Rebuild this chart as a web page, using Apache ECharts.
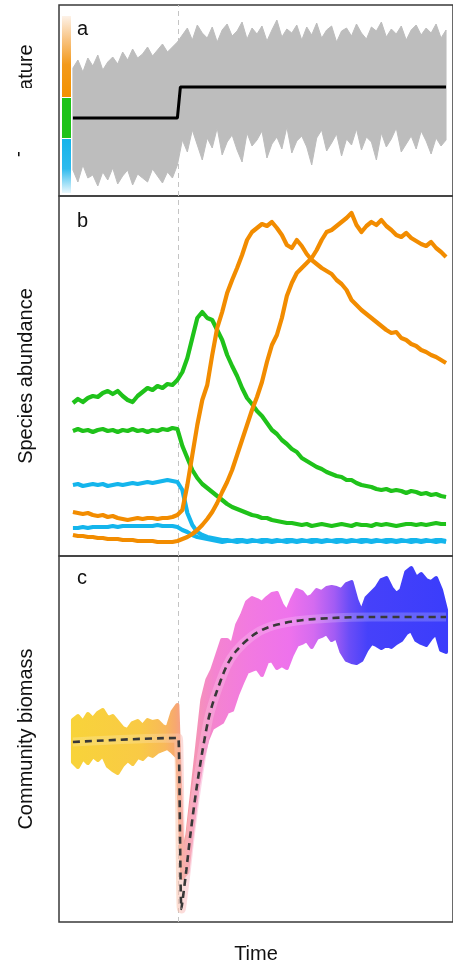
<!DOCTYPE html>
<html>
<head>
<meta charset="utf-8">
<title>Community response</title>
<script src="https://cdn.jsdelivr.net/npm/echarts/dist/echarts.min.js"></script>
<style>
  html, body { margin: 0; padding: 0; background: #fff; }
  #main { width: 453px; height: 965px; }
</style>
</head>
<body>
<div id="main"></div>
<script>
// 时间轴 (三个面板共用)
var time = [0,5,10,15,20,25,30,35,40,45,50,55,60,65,70,75,80,85,90,95,100,105,
  110,115,120,125,130,135,140,145,150,155,160,165,170,175,180,185,190,195,200,205,
  210,215,220,225,230,235,240,245,250,255,260,265,270,275,280,285,290,295,300,305,
  310,315,320,325,330,335,340,345,350,355,360,365,370,375];
var shiftTime = 106;   // 温度突变时刻

// a: 温度 (灰色波动范围 + 均值)
var tempUpper = [12.8,13.6,12.4,13.8,13.0,14.1,12.6,13.4,13.9,13.2,14.4,13.6,14.7,13.8,14.2,14.9,14.0,14.6,15.2,14.4,14.9,15.4,
  16.1,16.8,15.6,17.1,16.3,15.8,16.9,15.4,16.6,17.2,16.0,16.5,17.4,15.7,16.8,16.2,17.0,15.5,16.6,17.6,15.9,16.7,16.3,17.1,15.6,16.9,16.1,17.3,15.8,16.6,17.0,15.4,16.5,16.8,16.0,17.2,16.3,15.7,16.9,16.5,17.4,15.9,16.7,16.2,17.0,15.6,16.6,17.1,16.1,16.8,16.3,17.2,15.8,16.6];
var tempLower = [2.6,1.4,3.1,1.8,2.1,1.0,2.4,1.6,2.8,1.2,2.0,2.6,1.1,2.2,1.8,1.4,2.7,2.0,1.3,2.4,1.8,3.1,
  5.6,4.4,6.6,5.1,3.6,5.8,4.8,6.8,4.1,5.4,6.1,4.6,3.4,6.3,5.0,5.6,6.5,3.8,5.2,5.9,4.7,6.9,4.3,5.5,6.0,4.9,3.1,5.8,6.6,4.5,5.3,6.2,4.0,5.7,5.1,6.7,4.6,5.9,5.4,3.6,6.3,4.9,5.7,6.8,4.4,5.2,6.0,4.7,6.5,5.5,4.2,5.8,5.0,5.6];
var meanTime = [0,105,108,375];
var meanTemp = [7.8,7.8,10.9,10.9];

// b: 物种丰度
var greenA = [15.3,15.7,15.4,15.8,16.0,15.9,16.3,16.5,16.2,16.5,16.0,15.6,15.4,16.0,16.4,16.8,16.6,17.0,16.8,17.2,17.1,17.6,
  18.4,19.8,21.8,23.8,24.4,23.8,23.6,22.6,21.6,20.1,19.0,18.0,16.8,15.8,15.2,14.5,14.0,13.3,12.6,12.2,11.6,11.2,10.7,10.4,9.8,9.5,9.2,8.9,8.7,8.4,8.2,8.0,7.9,7.6,7.6,7.3,7.1,7.0,6.9,6.7,6.6,6.7,6.5,6.6,6.5,6.3,6.5,6.4,6.2,6.3,6.1,6.2,6.0,5.9];
var greenB = [12.5,12.7,12.5,12.6,12.4,12.6,12.7,12.5,12.6,12.4,12.6,12.5,12.7,12.5,12.6,12.4,12.6,12.5,12.7,12.6,12.8,12.7,
  11.0,9.8,8.6,7.8,7.2,6.8,6.4,6.0,5.6,5.2,4.9,4.7,4.5,4.3,4.1,4.0,3.8,3.8,3.6,3.5,3.4,3.3,3.3,3.2,
  3.1,3.2,3.0,3.1,3.2,3.1,3.0,3.1,3.2,3.1,3.0,3.2,3.1,3.1,3.0,3.2,3.1,3.2,3.1,3.0,3.1,3.2,3.2,3.1,3.2,3.1,3.2,3.3,3.2,3.2];
var blueA = [7.1,7.2,7.0,7.1,7.2,7.1,7.2,7.0,7.1,7.2,7.1,7.2,7.3,7.2,7.3,7.4,7.3,7.4,7.5,7.6,7.5,7.4,
  6.6,4.3,3.1,2.4,2.1,1.9,1.8,1.7,1.6,
  1.6,1.5,1.6,1.6,1.5,1.6,1.5,1.6,1.6,1.5,1.6,1.5,1.6,1.6,1.5,1.6,1.5,1.6,1.6,1.5,
  1.6,1.5,1.6,1.6,1.5,1.6,1.5,1.6,1.6,1.5,1.6,1.5,1.6,1.6,1.5,1.6,1.5,1.6,1.6,1.5,1.6,1.5,1.6,1.6,1.5];
var blueB = [2.8,2.8,2.9,2.8,2.9,2.9,2.9,2.9,3.0,2.9,3.0,3.0,3.0,3.0,3.0,3.0,3.0,3.1,3.0,3.0,3.0,2.9,
  2.6,2.4,2.1,1.9,1.8,1.7,1.6,
  1.5,1.4,1.5,1.5,1.4,1.5,1.4,1.5,1.5,1.4,1.5,1.4,1.5,1.5,1.4,1.5,1.4,1.5,1.5,1.4,1.5,1.4,1.5,1.5,
  1.4,1.5,1.4,1.5,1.5,1.4,1.5,1.4,1.5,1.5,1.4,1.5,1.4,1.5,1.5,1.4,1.5,1.4,1.5,1.5,1.4,1.5,1.4];
var orangeA = [4.4,4.3,4.2,4.3,4.1,4.0,4.1,3.9,4.0,3.8,3.7,3.6,3.7,3.8,3.7,3.8,3.8,3.7,3.8,3.8,3.9,4.1,
  4.6,7.1,10.1,13.1,15.6,17.1,20.1,22.8,24.4,26.3,27.6,28.8,30.1,31.6,32.4,32.8,33.2,33.0,33.4,32.8,32.1,31.1,30.8,31.6,31.0,30.2,29.6,29.2,28.8,28.5,28.2,27.6,27.2,26.6,25.6,25.1,24.6,24.2,23.8,23.4,23.0,22.6,22.3,22.4,21.8,21.6,21.2,21.0,20.6,20.4,20.1,19.9,19.6,19.3];
var orangeB = [2.1,2.0,2.0,1.9,1.9,1.8,1.8,1.7,1.7,1.7,1.6,1.6,1.6,1.5,1.5,1.5,1.5,1.4,1.4,1.4,1.4,1.5,
  1.7,1.9,2.2,2.6,3.1,3.7,4.4,5.3,6.4,7.4,8.6,10.1,11.6,13.1,14.6,15.9,17.4,19.4,21.1,22.1,23.8,26.0,27.3,28.3,28.8,29.3,29.8,30.6,31.6,
  32.4,32.6,33.0,33.4,33.8,34.3,33.1,32.4,33.0,33.4,33.1,33.6,33.0,32.6,32.1,31.9,32.3,31.8,31.5,31.2,31.0,31.4,30.8,30.4,29.9];

// c: 群落生物量 (波动范围 + 拟合曲线)
var biomassHigh = [20.2,20.6,20.0,20.8,20.3,20.9,21.2,20.4,20.6,20.0,19.4,19.2,19.9,20.1,19.6,20.2,20.0,20.1,19.6,19.4,21.0,21.7,
  6.7,8.7,13.2,17.7,22.2,24.2,25.2,26.7,28.2,28.2,27.7,29.7,30.7,32.0,32.4,32.2,31.9,32.4,32.8,32.9,31.7,31.0,32.2,33.2,33.0,32.4,32.6,33.2,33.0,33.4,
  33.5,33.4,33.2,33.8,34.0,32.2,31.0,32.4,32.9,33.4,34.2,34.4,33.4,32.8,33.2,35.0,35.4,34.4,34.8,34.2,34.0,34.4,33.2,31.2];
var biomassLow = [16.0,15.5,16.4,15.9,16.6,16.2,16.7,15.6,15.2,14.9,15.7,16.2,15.8,16.5,16.3,16.8,16.6,17.0,17.2,17.4,17.0,16.5,
  4.4,5.0,9.2,13.2,16.2,18.2,19.4,19.7,20.0,21.0,21.2,22.7,23.9,25.0,25.2,25.4,24.7,26.0,26.2,25.4,25.7,25.4,26.7,27.7,27.9,28.2,27.5,28.4,28.6,28.9,
  28.2,28.5,27.0,26.2,26.0,25.9,26.2,27.2,27.9,27.7,27.4,27.7,27.5,27.9,28.2,28.9,29.2,28.2,27.9,27.7,28.4,28.9,27.2,27.0];
var fitTime = [0,105,106,109,110,114,118,124,130,136,140,144,154,164,180,197,224,260,300,375];
var fitBiomass = [18.0,18.4,18.4,1.3,2.0,5.2,8.7,13.2,17.0,20.2,21.7,22.9,25.5,27.1,28.6,29.5,30.1,30.4,30.5,30.5];

// 颜色
var cGreen = '#1fc21a', cBlue = '#14b5ec', cOrange = '#f28c00', cGray = '#bdbdbd';
var biomassStops = [[0,'#f8d33a'],[0.18,'#f9ca45'],[0.245,'#f8b95a'],[0.275,'#f7a870'],[0.296,'#f59c92'],
  [0.325,'#f595b4'],[0.38,'#f484d0'],[0.47,'#f27ae0'],[0.58,'#ee72ec'],[0.645,'#d46bf0'],
  [0.70,'#a35cf4'],[0.74,'#6b4df7'],[0.79,'#4641fa'],[1,'#3b3dfb']];

function lighten(hex, k) {
  var r = parseInt(hex.substr(1,2),16), g = parseInt(hex.substr(3,2),16), b = parseInt(hex.substr(5,2),16);
  r = Math.round(r + (255-r)*k); g = Math.round(g + (255-g)*k); b = Math.round(b + (255-b)*k);
  return 'rgb(' + r + ',' + g + ',' + b + ')';
}
function gradStops(stops, k) {
  return stops.map(function (s) { return {offset: s[0], color: k ? lighten(s[1], k) : s[1]}; });
}
function pairs(xs, ys) {
  return xs.map(function (x, i) { return [x, ys[i]]; });
}

// 波动范围: 画成一个多边形 (通过坐标轴换算)
function bandRender(low, high, fillColor, edgeWidth) {
  return function (params, api) {
    if (params.dataIndex !== 0) return null;
    var up = [], lo = [];
    for (var i = 0; i < time.length; i++) {
      up.push(api.coord([time[i], high[i]]));
      lo.push(api.coord([time[i], low[i]]));
    }
    var fill = fillColor;
    if (typeof fillColor !== 'string') {
      fill = new echarts.graphic.LinearGradient(up[0][0], 0, up[up.length - 1][0], 0, gradStops(fillColor), true);
    }
    return {
      type: 'polygon',
      shape: { points: up.concat(lo.slice().reverse()) },
      style: { fill: fill, stroke: fill, lineWidth: edgeWidth, lineJoin: 'round' }
    };
  };
}

var myChart = echarts.init(document.getElementById('main'));

var vline = {
  silent: true, symbol: 'none', z: 1,
  label: { show: false },
  lineStyle: { color: '#c4c4c4', width: 1, type: [5, 4] },
  data: [{ xAxis: shiftTime }]
};

function hiddenX(idx, extra) {
  return Object.assign({
    type: 'value', gridIndex: idx, min: -14, max: 382,
    axisLine: { show: false }, axisTick: { show: false },
    axisLabel: { show: false }, splitLine: { show: false }
  }, extra || {});
}
function hiddenY(idx, max, name) {
  return {
    type: 'value', gridIndex: idx, min: 0, max: max,
    name: name, nameLocation: 'middle', nameRotate: 90, nameGap: 23,
    nameTextStyle: { fontSize: 20, color: '#111', fontFamily: 'Liberation Sans, Arial, sans-serif' },
    axisLine: { show: false }, axisTick: { show: false },
    axisLabel: { show: false }, splitLine: { show: false }
  };
}

function lineSeries(yIdx, data, color) {
  return {
    type: 'line', xAxisIndex: yIdx, yAxisIndex: yIdx,
    data: pairs(time, data), symbol: 'none', z: 3,
    lineStyle: { color: color, width: 4.2, join: 'round' }
  };
}

let option = {
  backgroundColor: '#fff',
  animation: false,
  textStyle: { fontFamily: 'Liberation Sans, Arial, sans-serif' },
  grid: [
    { left: 59, top: 5, width: 396, height: 191, show: true, borderColor: '#3a3a3a', borderWidth: 1.5 },
    { left: 59, top: 196, width: 396, height: 360, show: true, borderColor: '#3a3a3a', borderWidth: 1.5 },
    { left: 59, top: 556, width: 396, height: 366, show: true, borderColor: '#3a3a3a', borderWidth: 1.5 }
  ],
  xAxis: [
    hiddenX(0), hiddenX(1),
    hiddenX(2, { name: 'Time', nameLocation: 'middle', nameGap: 22,
      nameTextStyle: { fontSize: 20, color: '#111', fontFamily: 'Liberation Sans, Arial, sans-serif' } })
  ],
  yAxis: [
    hiddenY(0, 19.1, 'Temperature'),
    hiddenY(1, 36, 'Species abundance'),
    hiddenY(2, 36.6, 'Community biomass')
  ],
  series: [
    // a
    {
      type: 'custom', xAxisIndex: 0, yAxisIndex: 0, z: 2,
      data: time.map(function (t, i) { return [t, tempLower[i], tempUpper[i]]; }),
      encode: { x: 0, y: [1, 2] },
      renderItem: bandRender(tempLower, tempUpper, cGray, 1)
    },
    {
      type: 'line', xAxisIndex: 0, yAxisIndex: 0, z: 3,
      data: pairs(meanTime, meanTemp), symbol: 'none',
      lineStyle: { color: '#000', width: 3 },
      markLine: vline
    },
    // b
    lineSeries(1, blueA, cBlue),
    lineSeries(1, blueB, cBlue),
    Object.assign(lineSeries(1, greenA, cGreen), { markLine: vline }),
    lineSeries(1, greenB, cGreen),
    lineSeries(1, orangeB, cOrange),
    lineSeries(1, orangeA, cOrange),
    // c
    {
      type: 'custom', xAxisIndex: 2, yAxisIndex: 2, z: 2,
      data: time.map(function (t, i) { return [t, biomassLow[i], biomassHigh[i]]; }),
      encode: { x: 0, y: [1, 2] },
      renderItem: bandRender(biomassLow, biomassHigh, biomassStops, 4)
    },
    {
      type: 'line', xAxisIndex: 2, yAxisIndex: 2, z: 3,
      data: pairs(fitTime, fitBiomass), symbol: 'none', smooth: 0.3,
      lineStyle: {
        width: 9, opacity: 0.55,
        color: new echarts.graphic.LinearGradient(0, 0, 1, 0, gradStops(biomassStops, 0.35))
      },
      markLine: vline
    },
    {
      type: 'line', xAxisIndex: 2, yAxisIndex: 2, z: 4,
      data: pairs(fitTime, fitBiomass), symbol: 'none', smooth: 0.3,
      lineStyle: { color: '#383838', width: 2.6, type: [7, 5] }
    }
  ],
  graphic: [
    // 遮住 Temperature 的中间部分
    { type: 'rect', z: 100, shape: { x: 0, y: 88, width: 50, height: 64 }, style: { fill: '#fff' } },
    // 左侧色条
    { type: 'rect', z: 100, shape: { x: 62, y: 16, width: 9, height: 81 },
      style: { fill: new echarts.graphic.LinearGradient(0, 0, 0, 1, [
        { offset: 0, color: '#fdf2e8' }, { offset: 0.3, color: '#f8c27f' },
        { offset: 0.6, color: '#f39a1c' }, { offset: 1, color: '#f39200' }]) } },
    { type: 'rect', z: 100, shape: { x: 62, y: 98, width: 9, height: 40 }, style: { fill: cGreen } },
    { type: 'rect', z: 100, shape: { x: 62, y: 139, width: 9, height: 54 },
      style: { fill: new echarts.graphic.LinearGradient(0, 0, 0, 1, [
        { offset: 0, color: '#15b4ea' }, { offset: 0.55, color: '#2ebbee' },
        { offset: 1, color: '#eaf8fd' }]) } },
    // 面板编号
    { type: 'text', z: 100, style: { x: 77, y: 29, text: 'a', font: '20px "Liberation Sans", Arial', fill: '#111', textVerticalAlign: 'middle' } },
    { type: 'text', z: 100, style: { x: 77, y: 221, text: 'b', font: '20px "Liberation Sans", Arial', fill: '#111', textVerticalAlign: 'middle' } },
    { type: 'text', z: 100, style: { x: 77, y: 578, text: 'c', font: '20px "Liberation Sans", Arial', fill: '#111', textVerticalAlign: 'middle' } }
  ]
};

myChart.setOption(option);
</script>
</body>
</html>
